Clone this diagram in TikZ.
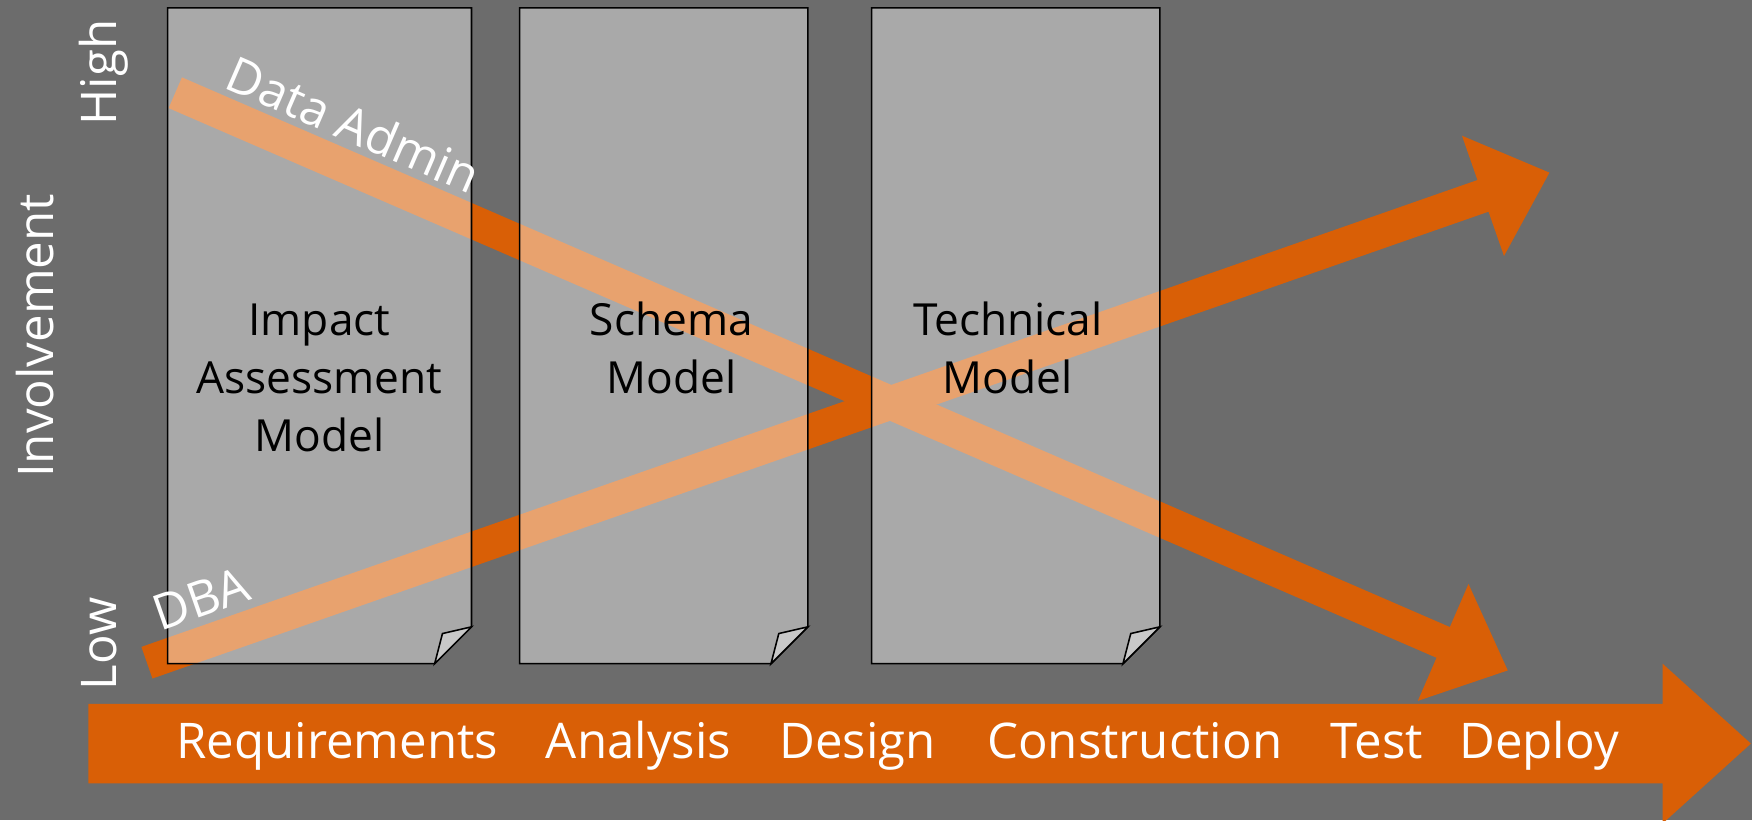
\documentclass[tikz,border=0pt]{standalone}
\usepackage{fontspec}
\setmainfont{Open Sans}
\usetikzlibrary{calc}
\definecolor{bg}{RGB}{108,108,108}
\definecolor{accent}{RGB}{217,95,6}
\definecolor{foldgray}{RGB}{200,200,200}
\newcommand\linestack[1]{\vtop{\baselineskip=26pt\halign{\hfil##\hfil\cr#1\crcr}}}
\newcommand\fatarrow[2]{%
  \path ($(#2)!31.5pt!(#1)$) coordinate (fa-base);
  \fill[accent] ($(#1)!7.5pt!90:(#2)$) -- ($(fa-base)!7.5pt!90:(#2)$)
    -- ($(fa-base)!28.5pt!90:(#2)$) -- (#2) -- ($(fa-base)!28.5pt!-90:(#2)$)
    -- ($(fa-base)!7.5pt!-90:(#2)$) -- ($(#1)!7.5pt!-90:(#2)$) -- cycle;}
\newcommand\pagebox[4]{% left, right, top, bottom
  \fill[white, fill opacity=0.42] (#1,#3) -- (#2,#3) -- (#2,#4-33) -- (#2-33,#4) -- (#1,#4) -- cycle;
  \draw[pageline] (#1,#3) -- (#2,#3) -- (#2,#4-33) -- (#2-33,#4) -- (#1,#4) -- cycle;
  \filldraw[pageline, fill=foldgray] (#2,#4-33) -- (#2-26,#4-27) -- (#2-33,#4) -- cycle;}
\tikzset{
  lbl/.style={text=white, font=\fontsize{22}{26}\selectfont, inner sep=0pt, anchor=base},
  boxtxt/.style={text=black, font=\fontsize{19.8}{26}\selectfont, inner sep=0pt, anchor=base},
  pageline/.style={draw=black, line width=0.7pt, line join=miter},
}
\begin{document}
\begin{tikzpicture}[x=0.5pt, y=-0.5pt]
\useasboundingbox (0,0) rectangle (1568,734);
\clip (0,0) rectangle (1568,734);
\fill[bg] (0,0) rectangle (1568,734);
% phase arrow
\fill[accent] (79,630) -- (1488,630) -- (1488,594) -- (1567,665.5) -- (1488,737) -- (1488,701) -- (79,701) -- cycle;
% involvement arrows
\coordinate (daTail) at (156.9,83);
\coordinate (daTip) at (1349.4,600);
\coordinate (dbaTail) at (131.5,593.1);
\coordinate (dbaTip) at (1386.7,154.5);
\fatarrow{daTail}{daTip}
\fatarrow{dbaTail}{dbaTip}
% pages
\pagebox{150}{422}{7}{594}
\pagebox{465}{723}{7}{594}
\pagebox{780}{1038}{7}{594}
% page labels
\node[boxtxt] (impact) at (285.8,300) {\linestack{Impact\cr Assessment\cr Model}};
\node[boxtxt] (schema) at (601,300.5) {\linestack{Schema\cr Model}};
\node[boxtxt] (technical) at (902,300) {\linestack{Technical\cr Model}};
% axis labels
\node[lbl, rotate=90] (involvement) at (48.3,300.6) {Involvement};
\node[lbl, rotate=90] (high) at (104.5,64.9) {High};
\node[lbl, rotate=90] (low) at (104.5,576.2) {Low};
\node[lbl, rotate=-23.44] (dataadmin) at (309.8,126.4) {Data Admin};
\node[lbl, rotate=19.26] (dba) at (185.2,551) {DBA};
% phases
\node[lbl] (req) at (302,678.7) {Requirements};
\node[lbl] (ana) at (571.5,678.7) {Analysis};
\node[lbl] (des) at (767.5,678.7) {Design};
\node[lbl] (con) at (1015.5,678.7) {Construction};
\node[lbl] (tst) at (1232.4,678.7) {Test};
\node[lbl] (dep) at (1377.4,678.7) {Deploy};
\end{tikzpicture}
\end{document}
